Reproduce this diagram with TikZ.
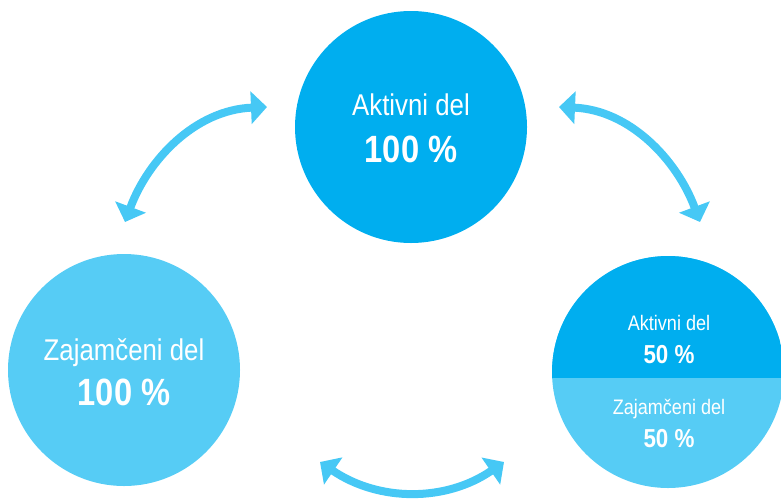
\documentclass[tikz,border=0pt]{standalone}
\usepackage{fontspec}
\setmainfont{Liberation Sans}
\newfontfamily\narrowfont[FakeStretch=0.86]{Liberation Sans}
\usetikzlibrary{arrows.meta}
\definecolor{darkblue}{RGB}{0,174,239}
\definecolor{lightblue}{RGB}{86,204,245}
\definecolor{arrowblue}{RGB}{70,200,245}
\tikzset{
  disc/.style={circle, minimum size=232pt, inner sep=0pt, draw=none},
  lbl/.style={anchor=base, text=white, inner sep=0pt, font=\narrowfont\fontsize{#1}{#1}\selectfont},
  big/.style={anchor=base, text=white, inner sep=0pt, font=\narrowfont\bfseries\fontsize{#1}{#1}\selectfont},
  cyc/.style={draw=arrowblue, line width=8pt, {Triangle[width=32pt,length=16pt]}-{Triangle[width=32pt,length=16pt]}},
}
\begin{document}
\begin{tikzpicture}[x=1pt,y=-1pt]
\useasboundingbox (0,0) rectangle (781,498);
\clip (0,0) rectangle (781,498);
% circles
\node[disc, fill=darkblue] (top) at (411,127) {};
\node[disc, fill=lightblue] (left) at (124,370) {};
\node[disc, fill=lightblue] (right) at (668,372) {};
\begin{scope}
  \clip (668,372) circle (116);
  \fill[darkblue] (540,250) rectangle (790,378);
\end{scope}
% texts
\node[lbl=30] (t1) at (411,115) {Aktivni del};
\node[big=38] (t2) at (411,162) {100 \%};
\node[lbl=30] (l1) at (124,360) {Zajamčeni del};
\node[big=38] (l2) at (124,405) {100 \%};
\node[lbl=21] (r1) at (669,330) {Aktivni del};
\node[big=26] (r2) at (669,363) {50 \%};
\node[lbl=21] (r3) at (669,414) {Zajamčeni del};
\node[big=26] (r4) at (669,447) {50 \%};
% arrows
\coordinate (a1) at (125,222);
\coordinate (a2) at (267,107);
\coordinate (b1) at (559,107);
\coordinate (b2) at (700,222);
\coordinate (c1) at (320,462);
\coordinate (c2) at (504,462);
\draw[cyc] (a1) .. controls (148,160) and (195,110) .. (a2);
\draw[cyc] (b1) .. controls (630,110) and (677,160) .. (b2);
\draw[cyc] (c1) .. controls (379,502) and (446,502) .. (c2);
\end{tikzpicture}
\end{document}
